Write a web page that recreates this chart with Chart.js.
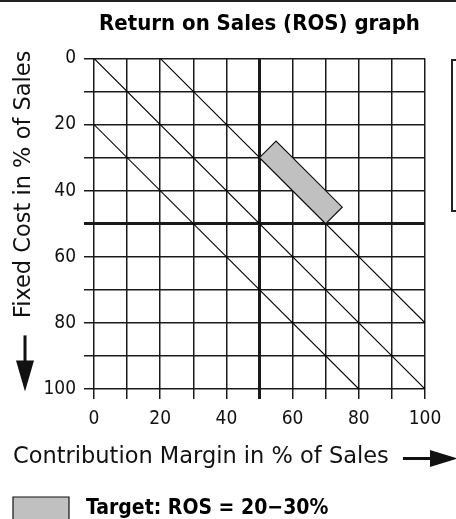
<!DOCTYPE html>
<html>
<head>
<meta charset="utf-8">
<script src="https://cdn.jsdelivr.net/npm/chart.js@4.4.1/dist/chart.umd.min.js"></script>
<style>
  html, body { margin: 0; padding: 0; background: #fff; }
  #wrap { position: relative; width: 456px; height: 519px; overflow: hidden; }
  #topline { position: absolute; left: 0; top: 0; width: 456px; height: 2px; background: #222; }
  #sidebox { position: absolute; left: 451px; top: 59px; width: 20px; height: 149px; border: 2px solid #222; }
</style>
</head>
<body>
<div id="wrap">
  <canvas id="ros-chart" width="456" height="519"></canvas>
  <div id="topline"></div>
  <div id="sidebox"></div>
</div>
<script>
const FONT = '"DejaVu Sans Condensed", "Liberation Sans Narrow", sans-serif';
const TITLE_FONT = '"DejaVu Sans", "Liberation Sans", sans-serif';

// Tick labels (grid every 10, labels every 20)
const tickLabels = [0, 20, 40, 60, 80, 100];
const breakEven = 50;

// ROS diagonals (x = contribution margin, y = fixed cost)
const rosZero = [{ x: 0, y: 0 }, { x: 100, y: 100 }];
const rosPlus20 = [{ x: 20, y: 0 }, { x: 100, y: 80 }];
const rosMinus20 = [{ x: 0, y: 20 }, { x: 80, y: 100 }];

// Target zone ROS = 20-30%
const targetZone = [
  { x: 50, y: 30 }, { x: 55, y: 25 }, { x: 75, y: 45 }, { x: 70, y: 50 }, { x: 50, y: 30 }
];

const titleText = "Return on Sales (ROS) graph";
const xTitle = "Contribution Margin in % of Sales";
const yTitle = "Fixed Cost in % of Sales";
const legendText = "Target: ROS = 20\u221230%";

const lineDs = (data) => ({
  data,
  showLine: true,
  borderColor: "#000",
  borderWidth: 1.1,
  pointRadius: 0,
  fill: false,
});

// axis titles + arrows
const axisTitles = {
  id: "axisTitles",
  afterDraw(chart) {
    const { ctx, chartArea: a } = chart;
    ctx.save();
    ctx.fillStyle = "#111";
    ctx.font = "22.5px " + TITLE_FONT;
    ctx.textBaseline = "alphabetic";
    ctx.textAlign = "left";
    ctx.fillText(xTitle, a.left - 81, a.bottom + 74);

    // arrow right
    ctx.fillRect(a.left + 309, a.bottom + 68, 28, 3);
    ctx.beginPath();
    ctx.moveTo(a.left + 336, a.bottom + 61);
    ctx.lineTo(a.left + 336, a.bottom + 78);
    ctx.lineTo(a.left + 364, a.bottom + 69.5);
    ctx.closePath();
    ctx.fill();

    // y title
    ctx.save();
    ctx.translate(a.left - 64, a.top + 126);
    ctx.rotate(-Math.PI / 2);
    ctx.textAlign = "center";
    ctx.fillText(yTitle, 0, 0);
    ctx.restore();

    // arrow down
    ctx.fillRect(a.left - 70.5, a.top + 277, 3, 27);
    ctx.beginPath();
    ctx.moveTo(a.left - 78, a.top + 302);
    ctx.lineTo(a.left - 60, a.top + 302);
    ctx.lineTo(a.left - 69, a.top + 333);
    ctx.closePath();
    ctx.fill();
    ctx.restore();
  },
};

const gridStyle = {
  color: "#1a1a1a",
  lineWidth: (c) => (c.tick && c.tick.value === breakEven ? 3 : 1.5),
  tickLength: 10,
  tickColor: "#1a1a1a",
  drawTicks: true,
};

new Chart(document.getElementById("ros-chart"), {
  type: "scatter",
  data: {
    datasets: [
      {
        label: legendText,
        data: targetZone,
        showLine: true,
        borderColor: "#111",
        borderWidth: 1.2,
        backgroundColor: "#c0c0c0",
        pointRadius: 0,
        fill: "shape",
        order: 1,
      },
      { label: "ROS 0", ...lineDs(rosZero), order: 2 },
      { label: "ROS 20", ...lineDs(rosPlus20), order: 2 },
      { label: "ROS -20", ...lineDs(rosMinus20), order: 2 },
    ],
  },
  options: {
    responsive: false,
    animation: false,
    // negative bottom padding: legend runs off the bottom edge like the original crop
    layout: { padding: { left: 12, right: 31, top: 0, bottom: -12 } },
    plugins: {
      title: {
        display: true,
        fullSize: false,
        text: titleText,
        color: "#000",
        font: { family: FONT, size: 22, weight: "bold" },
        padding: { top: 11, bottom: 21 },
      },
      legend: {
        display: true,
        position: "bottom",
        align: "start",
        labels: {
          filter: (item) => item.datasetIndex === 0,
          generateLabels: (chart) =>
            Chart.defaults.plugins.legend.labels.generateLabels(chart).map((l) => ({ ...l, text: " " + l.text })),
          color: "#000",
          font: { family: FONT, size: 21, weight: "bold" },
          boxWidth: 56,
          boxHeight: 24,
          padding: 1,
        },
      },
      tooltip: { enabled: false },
    },
    scales: {
      x: {
        type: "linear",
        min: 0,
        max: 100,
        grid: gridStyle,
        border: { display: false },
        ticks: {
          stepSize: 10,
          autoSkip: false,
          maxRotation: 0,
          padding: 9,
          color: "#111",
          font: { family: FONT, size: 19 },
          callback: (v) => (tickLabels.includes(v) ? String(v) : ""),
        },
        afterFit: (s) => { s.height = 107; },
      },
      y: {
        type: "linear",
        reverse: true,
        min: 0,
        max: 100,
        grid: gridStyle,
        border: { display: false },
        ticks: {
          stepSize: 10,
          autoSkip: false,
          padding: 8,
          color: "#111",
          font: { family: FONT, size: 19 },
          callback: (v) => (tickLabels.includes(v) ? String(v) : ""),
        },
        afterFit: (s) => { s.width = 82; },
      },
    },
  },
  plugins: [axisTitles],
});
</script>
</body>
</html>
